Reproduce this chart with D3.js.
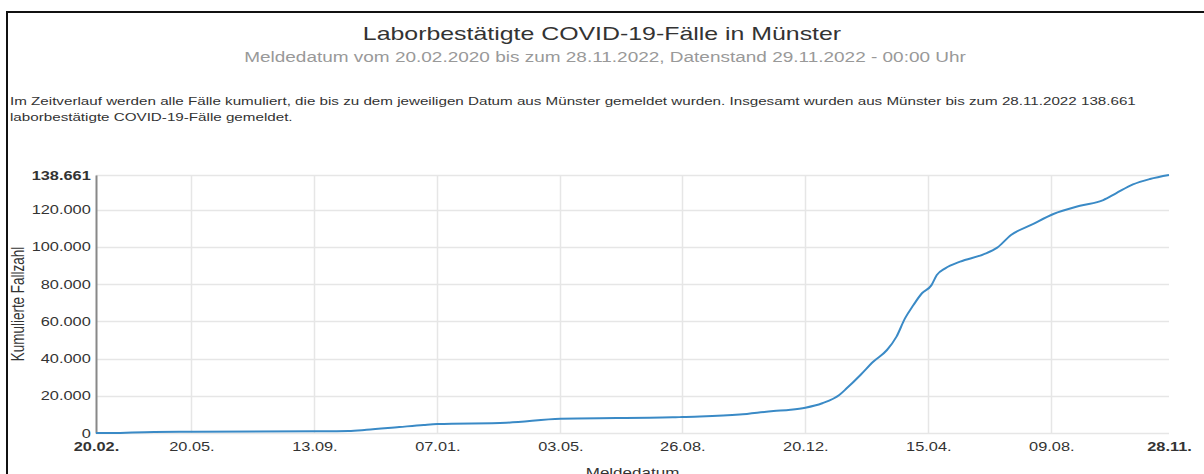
<!DOCTYPE html>
<html>
<head>
<meta charset="utf-8">
<script src="https://cdn.jsdelivr.net/npm/d3@7"></script>
<style>
  body { margin: 0; background: #fff; font-family: "Liberation Sans", Arial, sans-serif; }
  svg { display: block; }
</style>
</head>
<body>
<svg id="chart" width="1204" height="474"></svg>
<script>
// ========= Data
const reportDates = [
  "20.02.2020", "10.03.2020", "25.03.2020", "15.04.2020", "20.05.2020", "13.09.2020",
  "15.10.2020", "01.11.2020", "02.12.2020", "25.12.2020", "07.01.2021", "13.03.2021",
  "03.05.2021", "17.08.2021", "26.08.2021", "19.10.2021", "20.11.2021", "06.12.2021",
  "20.12.2021", "05.01.2022", "21.01.2022", "28.01.2022", "10.02.2022", "22.02.2022",
  "07.03.2022", "16.03.2022", "24.03.2022", "01.04.2022", "09.04.2022", "18.04.2022",
  "23.04.2022", "01.05.2022", "15.05.2022", "06.06.2022", "19.06.2022", "02.07.2022",
  "21.07.2022", "11.08.2022", "05.09.2022", "27.09.2022", "09.10.2022", "25.10.2022",
  "10.11.2022", "28.11.2022"
];
const cumulativeCases = [
  0, 30, 300, 550, 650, 900,
  1100, 1700, 3200, 4300, 4800, 5500,
  7600, 8400, 8600, 9900, 11800, 12500,
  13600, 16000, 20400, 24000, 31200, 38300,
  44600, 51800, 61600, 68800, 75100, 79500,
  84900, 88500, 92100, 96000, 99600, 106400,
  111800, 117700, 122100, 125200, 128800, 133600,
  136500, 138661
];
const xTickDates = [
  "20.02.2020", "20.05.2020", "13.09.2020", "07.01.2021", "03.05.2021",
  "26.08.2021", "20.12.2021", "15.04.2022", "09.08.2022", "28.11.2022"
];
const yTickValues = [0, 20000, 40000, 60000, 80000, 100000, 120000, 138661];

const titleText = "Laborbestätigte COVID-19-Fälle in Münster";
const subtitleText = "Meldedatum vom 20.02.2020 bis zum 28.11.2022, Datenstand 29.11.2022 - 00:00 Uhr";
const descLines = [
  "Im Zeitverlauf werden alle Fälle kumuliert, die bis zu dem jeweiligen Datum aus Münster gemeldet wurden. Insgesamt wurden aus Münster bis zum 28.11.2022 138.661",
  "laborbestätigte COVID-19-Fälle gemeldet."
];

// ========= Setup
const parseDate = d3.timeParse("%d.%m.%Y");
const de = d3.formatLocale({ decimal: ",", thousands: ".", grouping: [3], currency: ["", " €"] });
const fmtNum = de.format(",d");
const fmtTick = d3.timeFormat("%d.%m.");
const sx = 1.31; // the reference screenshot is stretched horizontally

const series = reportDates.map((d, i) => ({ date: parseDate(d), value: cumulativeCases[i] }));
const tickDates = xTickDates.map(parseDate);

const svg = d3.select("#chart");
const m = { l: 96, r: 1169, t: 175, b: 433 };

const x = d3.scaleTime()
  .domain(d3.extent(series, d => d.date))
  .range([m.l, m.r]);
const y = d3.scaleLinear()
  .domain([0, d3.max(cumulativeCases)])
  .range([m.b, m.t]);

// stretched text helper
function addText(px, py, str, opts = {}) {
  return svg.append("text")
    .attr("transform", `translate(${px},${py}) scale(${sx},1)` + (opts.rotate ? ` rotate(${opts.rotate})` : ""))
    .attr("text-anchor", opts.anchor || "start")
    .attr("font-size", opts.size || 12)
    .attr("font-weight", opts.weight || "normal")
    .attr("fill", opts.fill || "#333")
    .text(str);
}

// ========= Frame
svg.append("path")
  .attr("d", "M7,474V12H1204")
  .attr("fill", "none")
  .attr("stroke", "#111")
  .attr("stroke-width", 2);

// ========= Titles
addText(602, 40, titleText, { anchor: "middle", size: 19 });
addText(605, 62, subtitleText, { anchor: "middle", size: 14.5, fill: "#999" });
descLines.forEach((t, i) => addText(10, 105 + i * 16, t, { size: 11.6 }));

// ========= Grid
svg.append("g")
  .selectAll("line")
  .data(yTickValues)
  .enter()
  .append("line")
  .attr("x1", m.l).attr("x2", m.r)
  .attr("y1", d => Math.round(y(d)) + 0.5)
  .attr("y2", d => Math.round(y(d)) + 0.5)
  .attr("stroke", "#e6e6e6")
  .attr("stroke-width", 1.5);

svg.append("g")
  .selectAll("line")
  .data(tickDates.slice(1, -1))
  .enter()
  .append("line")
  .attr("x1", d => Math.round(x(d)) + 0.5)
  .attr("x2", d => Math.round(x(d)) + 0.5)
  .attr("y1", m.t).attr("y2", m.b)
  .attr("stroke", "#e6e6e6")
  .attr("stroke-width", 1.5);

// ========= Axes
const yAxis = svg.append("g")
  .attr("transform", `translate(${m.l},0)`)
  .call(d3.axisLeft(y).tickValues(yTickValues).tickSize(0).tickPadding(4).tickFormat(fmtNum));
yAxis.select(".domain").attr("stroke", "#888").attr("stroke-width", 2);
yAxis.selectAll("text")
  .attr("transform", `scale(${sx},1)`)
  .attr("font-family", "Liberation Sans, Arial, sans-serif")
  .attr("font-size", 12.5)
  .attr("fill", "#333")
  .attr("font-weight", d => d === d3.max(yTickValues) ? "bold" : "normal");

const xAxis = svg.append("g")
  .attr("transform", `translate(0,${m.b})`)
  .call(d3.axisBottom(x).tickValues(tickDates).tickSize(0).tickPadding(9).tickFormat(fmtTick));
xAxis.select(".domain").remove();
xAxis.selectAll(".tick text")
  .attr("transform", `scale(${sx},1)`)
  .attr("font-family", "Liberation Sans, Arial, sans-serif")
  .attr("font-size", 12.5)
  .attr("fill", "#333")
  .attr("font-weight", (d, i) => (i === 0 || i === tickDates.length - 1) ? "bold" : "normal");

// axis titles
addText(24, 304, "Kumulierte Fallzahl", { anchor: "middle", size: 13.5, rotate: -90 });
addText((m.l + m.r) / 2, 477, "Meldedatum", { anchor: "middle", size: 13 });

// ========= Line
const line = d3.line()
  .x(d => x(d.date))
  .y(d => y(d.value))
  .curve(d3.curveMonotoneX);

svg.append("path")
  .datum(series)
  .attr("fill", "none")
  .attr("stroke", "#3a8ac6")
  .attr("stroke-width", 2)
  .attr("d", line);
</script>
</body>
</html>
